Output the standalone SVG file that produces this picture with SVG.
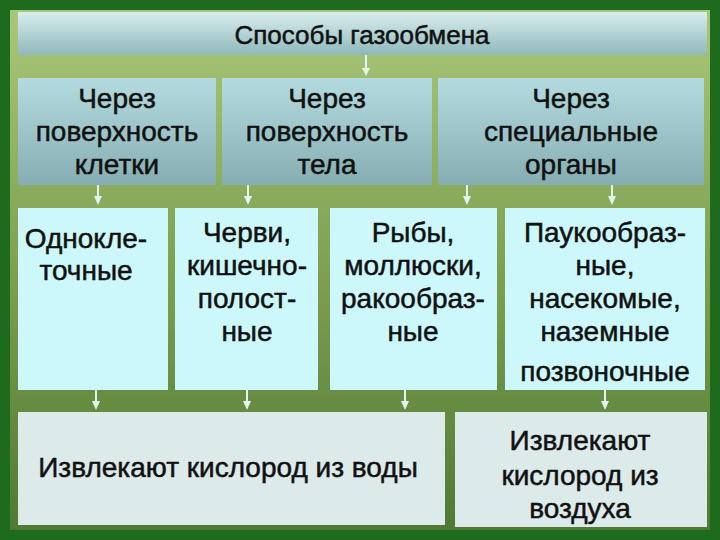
<svg xmlns="http://www.w3.org/2000/svg" width="720" height="540" viewBox="0 0 720 540">
<defs>
<linearGradient id="bg" x1="0" y1="0" x2="0" y2="1">
<stop offset="0" stop-color="#a9c77a"/><stop offset="0.5" stop-color="#7fa050"/><stop offset="1" stop-color="#4f7a35"/>
</linearGradient>
<linearGradient id="hdr" x1="0" y1="0" x2="0" y2="1">
<stop offset="0" stop-color="#d8eeee"/><stop offset="1" stop-color="#8fb8bb"/>
</linearGradient>
<linearGradient id="mid" x1="0" y1="0" x2="0" y2="1">
<stop offset="0" stop-color="#b4dce0"/><stop offset="1" stop-color="#86aeb2"/>
</linearGradient>
<style>
text{font-family:"Liberation Sans",Arial,sans-serif;font-size:28px;fill:#111;text-anchor:middle;stroke:#111;stroke-width:0.5}
.lb{fill:#ccf8fb}
.ar line{stroke:#e6f2ee;stroke-width:2}
.ar path{fill:#e6f2ee}
</style>
</defs>
<rect width="720" height="540" fill="#1e6b1e"/>
<rect x="10" y="10" width="700" height="520" fill="url(#bg)"/>
<g id="connectors" class="ar">
<line x1="366" y1="55" x2="366" y2="68"/><path d="M362,68 L370,68 L366,76 Z"/>
<line x1="98" y1="185" x2="98" y2="197"/><path d="M94,196 L102,196 L98,205 Z"/>
<line x1="248" y1="185" x2="248" y2="197"/><path d="M244,196 L252,196 L248,205 Z"/>
<line x1="467" y1="185" x2="467" y2="197"/><path d="M463,196 L471,196 L467,205 Z"/>
<line x1="612" y1="185" x2="612" y2="197"/><path d="M608,196 L616,196 L612,205 Z"/>
<line x1="96" y1="390" x2="96" y2="402"/><path d="M92,401 L100,401 L96,410 Z"/>
<line x1="247" y1="390" x2="247" y2="402"/><path d="M243,401 L251,401 L247,410 Z"/>
<line x1="405" y1="390" x2="405" y2="402"/><path d="M401,401 L409,401 L405,410 Z"/>
<line x1="605" y1="390" x2="605" y2="402"/><path d="M601,401 L609,401 L605,410 Z"/>
</g>
<g id="title"><rect x="18" y="12" width="689" height="43" fill="url(#hdr)"/><text x="362" y="44" style="font-size:26px">Способы газообмена</text></g>
<g id="m1"><rect x="18" y="78" width="198" height="107" fill="url(#mid)"/><text x="117" y="108">Через</text><text x="117" y="141">поверхность</text><text x="117" y="174">клетки</text></g>
<g id="m2"><rect x="222" y="78" width="210" height="107" fill="url(#mid)"/><text x="327" y="108">Через</text><text x="327" y="141">поверхность</text><text x="327" y="174">тела</text></g>
<g id="m3"><rect x="438" y="78" width="266" height="107" fill="url(#mid)"/><text x="571" y="108">Через</text><text x="571" y="141">специальные</text><text x="571" y="174">органы</text></g>
<g id="b1"><rect class="lb" x="18" y="208" width="150" height="182"/><text x="86" y="248">Однокле-</text><text x="86" y="280">точные</text></g>
<g id="b2"><rect class="lb" x="175" y="208" width="143" height="182"/><text x="247" y="242">Черви,</text><text x="247" y="275">кишечно-</text><text x="247" y="308">полост-</text><text x="247" y="341">ные</text></g>
<g id="b3"><rect class="lb" x="330" y="208" width="167" height="182"/><text x="413" y="242">Рыбы,</text><text x="413" y="275">моллюски,</text><text x="413" y="308">ракообраз-</text><text x="413" y="341">ные</text></g>
<g id="b4"><rect class="lb" x="505" y="208" width="200" height="182"/><text x="605" y="242">Паукообраз-</text><text x="605" y="275">ные,</text><text x="605" y="308">насекомые,</text><text x="605" y="341">наземные</text><text x="605" y="381">позвоночные</text></g>
<g id="w1"><rect x="18" y="412" width="427" height="113" fill="#dceaea"/><text x="228" y="477">Извлекают кислород из воды</text></g>
<g id="w2"><rect x="455" y="412" width="252" height="115" fill="#dceaea"/><text x="580" y="450">Извлекают</text><text x="580" y="485">кислород из</text><text x="580" y="518">воздуха</text></g>
</svg>
